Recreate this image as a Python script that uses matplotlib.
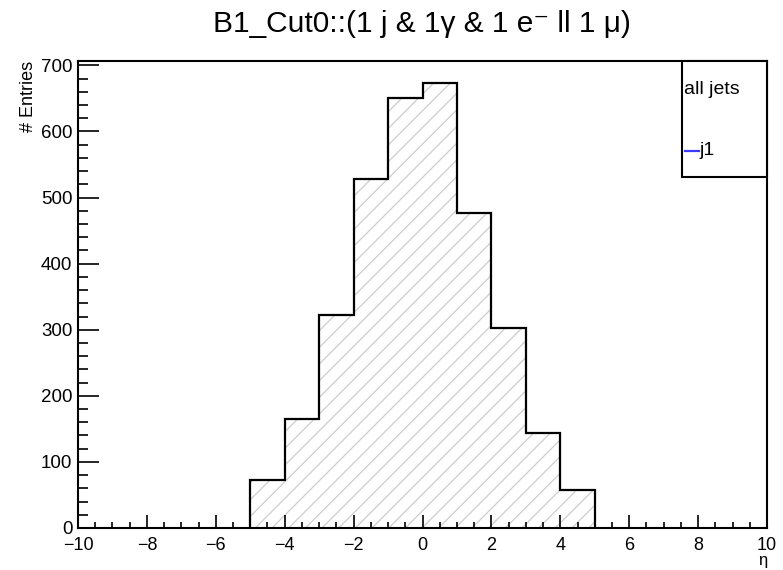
import numpy as np
import matplotlib
matplotlib.use("Agg")
import matplotlib.pyplot as plt
from matplotlib.patches import Rectangle
from matplotlib.lines import Line2D
from matplotlib.ticker import MultipleLocator

plt.rcParams['font.family'] = ['Liberation Sans', 'DejaVu Sans']
plt.rcParams['hatch.linewidth'] = 0.9

# eta histogram of the leading jet
bin_edges = [-5, -4, -3, -2, -1, 0, 1, 2, 3, 4, 5]
entries = [73, 165, 323, 528, 650, 673, 476, 302, 144, 57]

title = "B1_Cut0::(1 j & 1\u03b3 & 1 e\u207b ll 1 \u03bc)"
legend_header = "all jets"
legend_label = "j1"

fig = plt.figure(figsize=(7.83, 5.70), dpi=100)
ax = fig.add_axes([0.0996, 0.0737, 0.880, 0.8193])

# hatched fill, then black outline
ax.stairs(entries, bin_edges, fill=True, facecolor='white', edgecolor='#cdcdcd',
          hatch='//', linewidth=0)
ax.stairs(entries, bin_edges, fill=False, edgecolor='black', linewidth=1.6)

ax.set_xlim(-10, 10)
ax.set_ylim(0, max(entries) * 1.05)

ax.xaxis.set_major_locator(MultipleLocator(2))
ax.xaxis.set_minor_locator(MultipleLocator(0.5))
ax.yaxis.set_major_locator(MultipleLocator(100))
ax.yaxis.set_minor_locator(MultipleLocator(20))
ax.tick_params(axis='x', which='major', direction='in', length=9.2, width=1.2,
               labelsize=13, pad=6.5, top=False)
ax.tick_params(axis='x', which='minor', direction='in', length=4.0, width=1.2, top=False)
ax.tick_params(axis='y', which='major', direction='in', length=15, width=1.2,
               labelsize=13.5, pad=4, right=False)
ax.tick_params(axis='y', which='minor', direction='in', length=7.5, width=1.2, right=False)
for s in ax.spines.values():
    s.set_linewidth(1.5)

ax.set_xticklabels([("\u2212" if v < 0 else "") + str(abs(int(v))) for v in ax.get_xticks()])

fig.text(0.539, 0.958, title, ha='center', va='center', fontsize=21.5)
fig.text(0.037, 0.893, "# Entries", rotation=90, ha='center', va='top', fontsize=13)
fig.text(0.974, 0.003, "\u03b7", ha='center', va='bottom', fontsize=12)

# legend box
ax.add_patch(Rectangle((0.8766, 0.7516), 0.1234, 0.2484, transform=ax.transAxes,
                       facecolor='white', edgecolor='black', linewidth=1.5, zorder=5,
                       clip_on=False))
ax.text(0.879, 0.938, legend_header, transform=ax.transAxes, ha='left', va='center',
        fontsize=14, zorder=6)
ax.add_line(Line2D([0.881, 0.901], [0.808, 0.808], transform=ax.transAxes,
                   color='#3b3bff', linewidth=1.6, zorder=6))
ax.text(0.902, 0.808, legend_label, transform=ax.transAxes, ha='left', va='center',
        fontsize=14, zorder=6)

fig.savefig("out.png", dpi=100)
